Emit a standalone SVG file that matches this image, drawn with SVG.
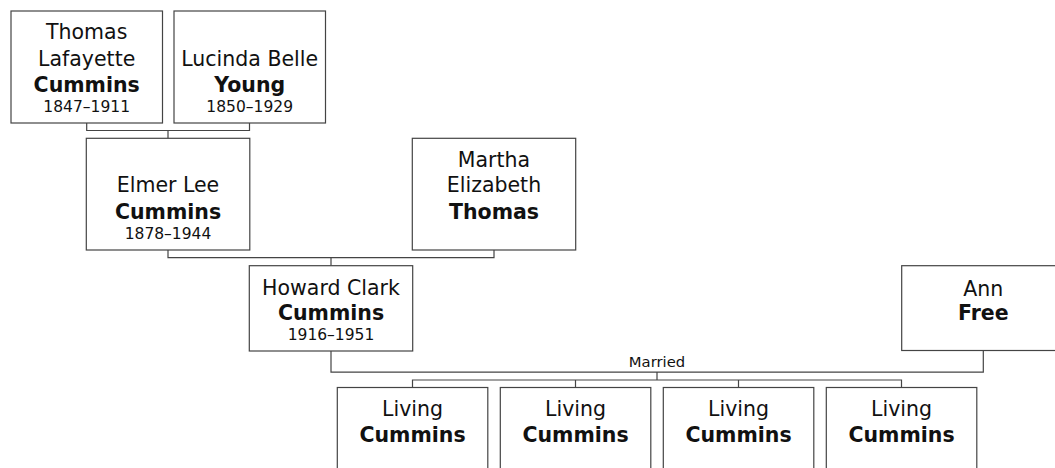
<svg xmlns="http://www.w3.org/2000/svg" width="1055" height="468" viewBox="0 0 1055 468">
<style>
.box{fill:#fff;stroke:#444;stroke-width:1.2}
.n{font-family:"DejaVu Sans",Verdana,sans-serif;font-size:20.5px;fill:#111;text-anchor:middle}
.b{font-weight:bold}
.d{font-family:"DejaVu Sans",Verdana,sans-serif;font-size:15.5px;fill:#111;text-anchor:middle}
.m{font-family:"DejaVu Sans",Verdana,sans-serif;font-size:14.8px;fill:#111;text-anchor:middle}
.c{fill:none;stroke:#444;stroke-width:1.2}
</style>
<g id="connectors">
<path class="c" d="M86.7 123V130.5H249.5V123M168 130.5V138"/>
<path class="c" d="M168 250V257.7H494V250M331 257.7V265.7"/>
<path class="c" d="M331 351V372.2H983.3V350.5M657 372.2V380M412.5 387.5V380H901.5V387.5M575.5 380V387.5M738.5 380V387.5"/>
<text class="m" x="657" y="367">Married</text>
</g>
<g id="thomas">
<rect class="box" x="11" y="11" width="151.5" height="112"/>
<text class="n" x="86.7" y="39.3">Thomas</text>
<text class="n" x="86.7" y="65.5">Lafayette</text>
<text class="n b" x="86.7" y="92">Cummins</text>
<text class="d" x="86.7" y="111.7">1847–1911</text>
</g>
<g id="lucinda">
<rect class="box" x="174" y="11" width="151.5" height="112"/>
<text class="n" x="249.7" y="65.5">Lucinda Belle</text>
<text class="n b" x="249.7" y="92">Young</text>
<text class="d" x="249.7" y="111.7">1850–1929</text>
</g>
<g id="elmer">
<rect class="box" x="86.3" y="138.3" width="163.5" height="111.7"/>
<text class="n" x="168" y="192.3">Elmer Lee</text>
<text class="n b" x="168" y="218.7">Cummins</text>
<text class="d" x="168" y="238.7">1878–1944</text>
</g>
<g id="martha">
<rect class="box" x="412.3" y="138.3" width="163.4" height="111.7"/>
<text class="n" x="494" y="166.5">Martha</text>
<text class="n" x="494" y="192.3">Elizabeth</text>
<text class="n b" x="494" y="218.7">Thomas</text>
</g>
<g id="howard">
<rect class="box" x="249.3" y="265.7" width="163.4" height="85.3"/>
<text class="n" x="331" y="294.5">Howard Clark</text>
<text class="n b" x="331" y="320">Cummins</text>
<text class="d" x="331" y="340">1916–1951</text>
</g>
<g id="ann">
<rect class="box" x="901.7" y="265.7" width="163.4" height="84.8"/>
<text class="n" x="983.3" y="296">Ann</text>
<text class="n b" x="983.3" y="320">Free</text>
</g>
<g id="child1">
<rect class="box" x="337.3" y="387.5" width="150.5" height="100"/>
<text class="n" x="412.5" y="416">Living</text>
<text class="n b" x="412.5" y="441.7">Cummins</text>
</g>
<g id="child2">
<rect class="box" x="500.3" y="387.5" width="150.5" height="100"/>
<text class="n" x="575.5" y="416">Living</text>
<text class="n b" x="575.5" y="441.7">Cummins</text>
</g>
<g id="child3">
<rect class="box" x="663.3" y="387.5" width="150.5" height="100"/>
<text class="n" x="738.5" y="416">Living</text>
<text class="n b" x="738.5" y="441.7">Cummins</text>
</g>
<g id="child4">
<rect class="box" x="826.3" y="387.5" width="150.5" height="100"/>
<text class="n" x="901.5" y="416">Living</text>
<text class="n b" x="901.5" y="441.7">Cummins</text>
</g>
</svg>
